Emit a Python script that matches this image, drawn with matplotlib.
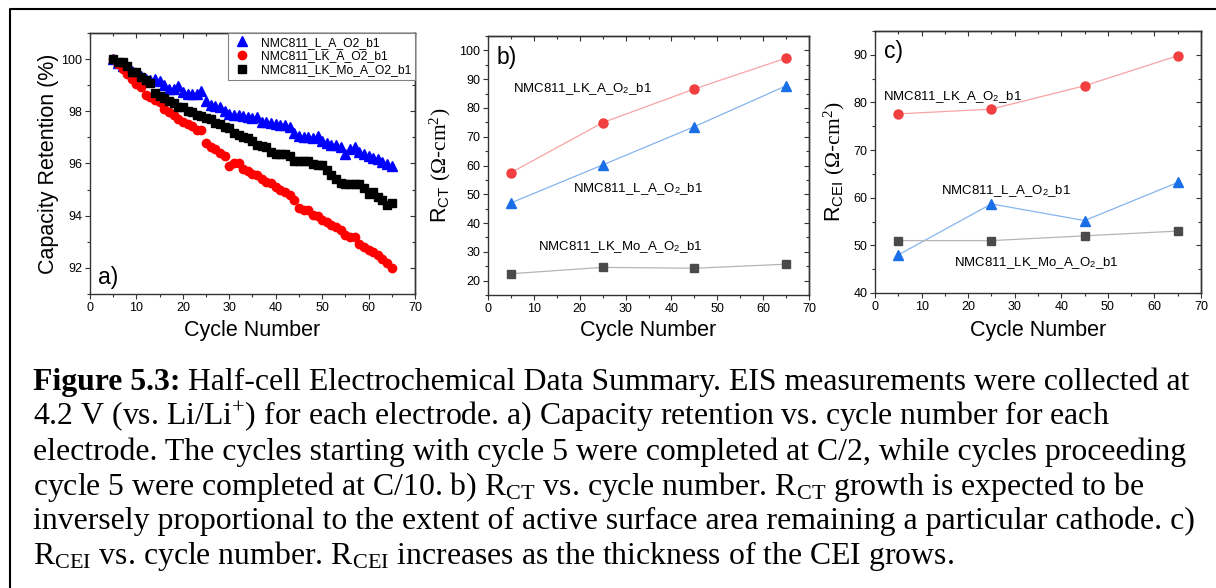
import matplotlib
matplotlib.use("Agg")
import matplotlib.pyplot as plt
from matplotlib.ticker import MultipleLocator

plt.rcParams['font.family'] = ['Liberation Sans', 'DejaVu Sans']
plt.rcParams['mathtext.fontset'] = 'custom'
plt.rcParams['mathtext.rm'] = 'Liberation Serif'
plt.rcParams['mathtext.it'] = 'Liberation Serif:italic'
plt.rcParams['mathtext.bf'] = 'Liberation Serif:bold'
plt.rcParams['mathtext.sf'] = 'Liberation Sans'

# capacity retention (%) per cycle, cycles 5..65
cycles = list(range(5, 66))
ret_l = [100.0, 99.85, 99.75, 99.65, 99.55, 99.45, 99.35, 99.25, 99.2, 99.22,
         99.15, 99.0, 98.85, 98.85, 98.98, 98.75, 98.66, 98.66, 98.66, 98.76,
         98.38, 98.25, 98.2, 98.15, 98.0, 97.88, 97.85, 97.85, 97.82, 97.8,
         97.75, 97.8, 97.6, 97.58, 97.55, 97.52, 97.48, 97.47, 97.38, 97.15,
         97.05, 97.0, 97.0, 96.98, 97.05, 96.85, 96.8, 96.72, 96.7, 96.65,
         96.37, 96.55, 96.65, 96.45, 96.38, 96.28, 96.22, 96.18, 96.05, 95.98,
         95.9]
ret_lk = [100.0, 99.82, 99.62, 99.42, 99.25, 99.05, 98.95, 98.62, 98.55, 98.42,
          98.35, 98.1, 97.98, 97.85, 97.7, 97.6, 97.5, 97.42, 97.3, 97.28,
          96.8, 96.65, 96.55, 96.42, 96.3, 95.92, 96.0, 96.0, 95.8, 95.7,
          95.6, 95.55, 95.4, 95.3, 95.25, 95.1, 95.0, 94.9, 94.8, 94.6,
          94.3, 94.22, 94.2, 94.02, 94.0, 93.85, 93.75, 93.65, 93.55, 93.45,
          93.25, 93.2, 93.2, 92.9, 92.8, 92.7, 92.62, 92.5, 92.35, 92.2,
          92.0]
ret_lkmo = [100.0, 99.9, 99.88, 99.72, 99.52, 99.5, 99.3, 99.2, 99.1, 98.72,
            98.6, 98.5, 98.4, 98.3, 98.15, 98.15, 98.0, 97.98, 97.85, 97.82,
            97.75, 97.7, 97.55, 97.5, 97.4, 97.35, 97.15, 97.1, 97.0, 96.98,
            96.88, 96.7, 96.68, 96.65, 96.45, 96.35, 96.35, 96.35, 96.3, 96.1,
            96.1, 96.1, 96.1, 95.98, 95.95, 95.95, 95.75, 95.55, 95.4, 95.25,
            95.2, 95.2, 95.2, 95.2, 95.05, 94.85, 94.9, 94.7, 94.6, 94.4,
            94.5]

# EIS fits (ohm cm^2)
eis_cycles = [5, 25, 45, 65]
rct_lk = [57.5, 74.9, 86.6, 97.3]
rct_l = [47.0, 60.2, 73.5, 87.7]
rct_lkmo = [22.4, 24.6, 24.3, 25.7]
rcei_lk = [77.6, 78.6, 83.5, 89.8]
rcei_l = [48.0, 58.7, 55.2, 63.2]
rcei_lkmo = [51.0, 51.0, 52.0, 53.0]

names = ['NMC811_L_A_O2_b1', 'NMC811_LK_A_O2_b1', 'NMC811_LK_Mo_A_O2_b1']
sub_names = ['NMC811_L_A_O$_{\\mathsf{2}}$_b1', 'NMC811_LK_A_O$_{\\mathsf{2}}$_b1',
             'NMC811_LK_Mo_A_O$_{\\mathsf{2}}$_b1']

W, H = 1216, 588
fig = plt.figure(figsize=(W / 100, H / 100), dpi=100)


def box(l, t, r, b):
    return [l / W, 1 - b / H, (r - l) / W, (b - t) / H]


def style(ax, xlim, ylim, ystep):
    ax.set_xlim(*xlim)
    ax.set_ylim(*ylim)
    for s in ax.spines.values():
        s.set_linewidth(1.0)
        s.set_color('#333333')
    ax.xaxis.set_major_locator(MultipleLocator(10))
    ax.xaxis.set_minor_locator(MultipleLocator(5))
    ax.yaxis.set_major_locator(MultipleLocator(ystep))
    ax.yaxis.set_minor_locator(MultipleLocator(ystep / 2))
    ax.tick_params(which='both', direction='out', labelsize=9, pad=2,
                   width=0.8, color='#333333')
    ax.tick_params(which='major', length=3.5)
    ax.tick_params(which='minor', length=2)
    # mirrored inward ticks on top and right
    top = ax.secondary_xaxis('top')
    right = ax.secondary_yaxis('right')
    top.xaxis.set_major_locator(MultipleLocator(10))
    top.xaxis.set_minor_locator(MultipleLocator(5))
    right.yaxis.set_major_locator(MultipleLocator(ystep))
    right.yaxis.set_minor_locator(MultipleLocator(ystep / 2))
    for sec in (top, right):
        sec.tick_params(which='both', direction='in', width=0.8,
                        color='#333333', labeltop=False, labelright=False)
        sec.tick_params(which='major', length=3.5)
        sec.tick_params(which='minor', length=2)
        for s in sec.spines.values():
            s.set_linewidth(1.0)
            s.set_color('#333333')
    ax.set_xlabel('Cycle Number', fontsize=15.5, va='top')


# a) capacity retention
ax_a = fig.add_axes(box(90, 33, 415, 294))
style(ax_a, (0, 70), (91, 101), 2)
ax_a.plot(cycles, ret_l, ls='none', marker='^', ms=6.6, color='#0000ff', label=names[0])
ax_a.plot(cycles, ret_lk, ls='none', marker='o', ms=6.0, color='#ff0000', label=names[1])
ax_a.plot(cycles, ret_lkmo, ls='none', marker='s', ms=5.6, color='#000000', label=names[2])
ax_a.set_ylabel('Capacity Retention (%)', fontsize=15.5)
ax_a.yaxis.set_label_coords(-0.095, 0.5)
ax_a.xaxis.set_label_coords(0.5, -0.10)
leg = ax_a.legend(loc='upper right', fontsize=8.7, frameon=True, fancybox=False,
                  edgecolor='#808080', borderaxespad=0, borderpad=0.3,
                  labelspacing=0.15, handletextpad=0.8, handlelength=1.6,
                  numpoints=1, framealpha=1)
leg.get_frame().set_linewidth(0.8)
ax_a.text(1.65, 91.4, 'a)', fontsize=16.5)

red_mk, red_ln = '#f23f3f', '#f7a3a3'
blue_mk, blue_ln = '#1b6fe6', '#86b4ee'
gray_mk, gray_ln = '#4a4a4a', '#b5b5b5'


def eis(ax, lk, l, lkmo):
    ax.plot(eis_cycles, lk, color=red_ln, lw=0.9, marker='o', ms=6.5,
            mfc=red_mk, mec=red_mk)
    ax.plot(eis_cycles, l, color=blue_ln, lw=0.9, marker='^', ms=7.2,
            mfc=blue_mk, mec=blue_mk)
    ax.plot(eis_cycles, lkmo, color=gray_ln, lw=0.9, marker='s', ms=5.6,
            mfc=gray_mk, mec=gray_mk)


# b) charge-transfer resistance
ax_b = fig.add_axes(box(488, 36, 809, 295))
style(ax_b, (0, 70), (15, 105), 10)
eis(ax_b, rct_lk, rct_l, rct_lkmo)
ax_b.set_ylabel('R$_{\\mathsf{CT}}$ $\\mathrm{(\\Omega}$-$\\mathrm{cm^{2})}$', fontsize=15.5)
ax_b.yaxis.set_label_coords(-0.108, 0.5)
ax_b.xaxis.set_label_coords(0.5, -0.098)
ax_b.text(5.37, 85.5, sub_names[1], fontsize=9.5)
ax_b.text(18.5, 50.8, sub_names[0], fontsize=9.5)
ax_b.text(10.8, 30.5, sub_names[2], fontsize=9.5)
ax_b.text(1.8, 95.4, 'b)', fontsize=16.5)

# c) CEI resistance
ax_c = fig.add_axes(box(875, 31, 1201, 293))
style(ax_c, (0, 70), (40, 95), 10)
eis(ax_c, rcei_lk, rcei_l, rcei_lkmo)
ax_c.set_ylabel('R$_{\\mathsf{CEI}}$ $\\mathrm{(\\Omega}$-$\\mathrm{cm^{2})}$', fontsize=15.5)
ax_c.yaxis.set_label_coords(-0.086, 0.5)
ax_c.xaxis.set_label_coords(0.5, -0.104)
ax_c.text(1.65, 80.6, sub_names[1], fontsize=9.5)
ax_c.text(14.1, 60.8, sub_names[0], fontsize=9.5)
ax_c.text(17.0, 45.6, sub_names[2], fontsize=9.5)
ax_c.text(1.93, 89.3, 'c)', fontsize=16.5)

# caption and frame, laid out in pixel units
cap = fig.add_axes([0, 0, 1, 1])
cap.set_xlim(0, W)
cap.set_ylim(H, 0)
cap.axis('off')
cap.plot([10, 10, W + 5], [H + 5, 9, 9], color='black', lw=1.5, clip_on=False)

serif = ['Liberation Serif', 'DejaVu Serif']
cfs = 22.9
lines = [
    None,
    '4.2 V (vs. Li/Li$^{+}$) for each electrode. a) Capacity retention vs. cycle number for each',
    'electrode. The cycles starting with cycle 5 were completed at C/2, while cycles proceeding',
    'cycle 5 were completed at C/10. b) R$_{\\mathrm{CT}}$ vs. cycle number. R$_{\\mathrm{CT}}$ growth is expected to be',
    'inversely proportional to the extent of active surface area remaining a particular cathode. c)',
    'R$_{\\mathrm{CEI}}$ vs. cycle number. R$_{\\mathrm{CEI}}$ increases as the thickness of the CEI grows.',
]
baselines = [390, 425, 460, 494.5, 529, 564]
head = cap.text(33, baselines[0], 'Figure 5.3:', family=serif, fontsize=cfs,
                fontweight='bold', va='baseline')
cap.annotate('Half-cell Electrochemical Data Summary. EIS measurements were collected at',
             xy=(1, 0), xycoords=head, xytext=(5.7, 0), textcoords='offset points',
             family=serif, fontsize=cfs, va='bottom', ha='left')
for txt, yb in zip(lines[1:], baselines[1:]):
    cap.text(33, yb, txt, family=serif, fontsize=cfs, va='baseline')

fig.savefig('out.png', dpi=100)
